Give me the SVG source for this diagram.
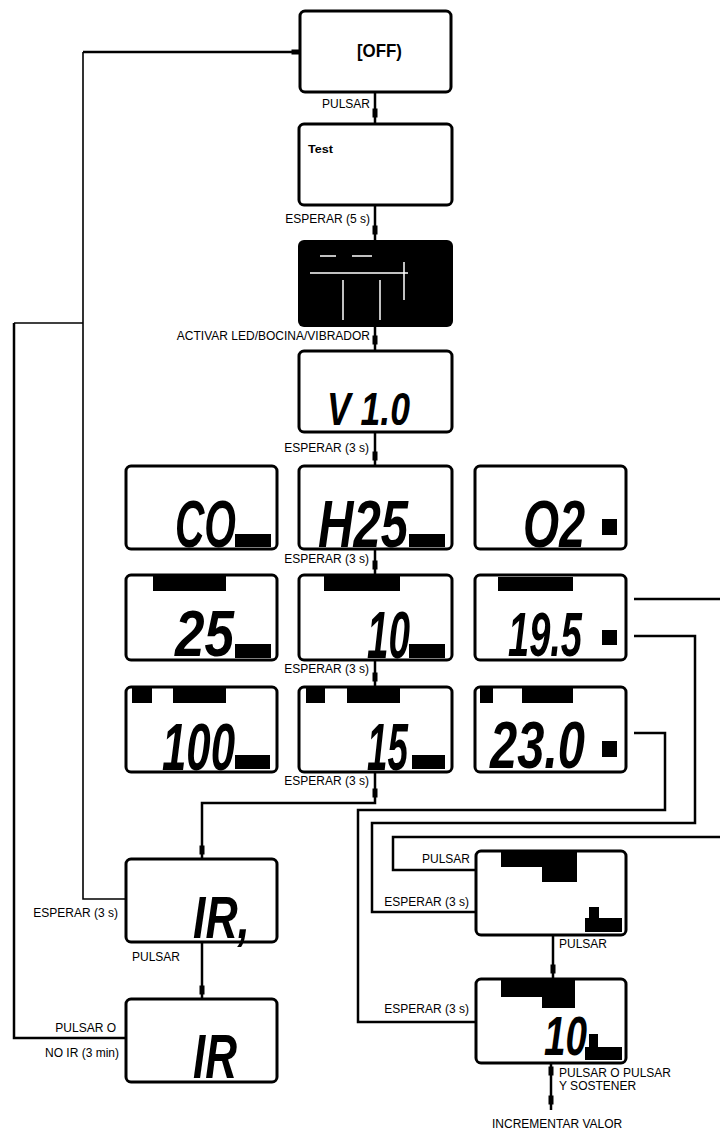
<svg xmlns="http://www.w3.org/2000/svg" xmlns:xlink="http://www.w3.org/1999/xlink" width="720" height="1131" viewBox="0 0 720 1131">
<style>
.scr{fill:#fff;stroke:#000;stroke-width:3}
.blk{fill:#000}
.ln{fill:none;stroke:#000;stroke-width:2.5}
.ln2{fill:none;stroke:#000;stroke-width:1.6}
.lbl{font-family:"Liberation Sans",Arial,sans-serif;font-size:12px;fill:#000}
.lcd{font-family:"Liberation Sans",Arial,sans-serif;font-weight:bold;font-style:italic;fill:#000}
.sm{font-family:"Liberation Sans",Arial,sans-serif;font-weight:bold;fill:#000}
</style>
<defs>
<rect id="nv" x="-2.5" y="-4.5" width="5" height="9" fill="#000"/>
<rect id="nh" x="-4.5" y="-2.5" width="9" height="5" fill="#000"/>
</defs>
<rect width="720" height="1131" fill="#fff"/>

<g id="connectors">
<path class="ln" d="M375 92V123"/>
<path class="ln" d="M375 205V240"/>
<path class="ln" d="M375 327V350"/>
<path class="ln" d="M375 432V465"/>
<path class="ln" d="M375 549V574"/>
<path class="ln" d="M375 660V686"/>
<path class="ln" d="M375 772V803H202V858"/>
<path class="ln" d="M202 942V998"/>
<path class="ln2" d="M126 899H83V52"/>
<path class="ln" d="M83 52H300"/>
<path class="ln" d="M126 1038H14V323"/>
<path class="ln2" d="M14 323H83"/>
<path class="ln" d="M634 599H720"/>
<path class="ln" d="M634 636H695V823H372V912H475"/>
<path class="ln" d="M720 837H393V870H475"/>
<path class="ln" d="M634 733H665V810H358V1022H475"/>
<path class="ln" d="M553 935V978"/>
<path class="ln" d="M551 1063V1110"/>
<use xlink:href="#nh" x="296" y="52"/>
<use xlink:href="#nv" x="375" y="113"/>
<use xlink:href="#nv" x="375" y="230"/>
<use xlink:href="#nv" x="375" y="340"/>
<use xlink:href="#nv" x="375" y="456"/>
<use xlink:href="#nv" x="375" y="565"/>
<use xlink:href="#nv" x="375" y="677"/>
<use xlink:href="#nv" x="375" y="793"/>
<use xlink:href="#nv" x="202" y="850"/>
<use xlink:href="#nv" x="202" y="990"/>
<use xlink:href="#nv" x="553" y="969"/>
<use xlink:href="#nv" x="551" y="1071"/>
<use xlink:href="#nv" x="551" y="1100"/>
</g>

<g id="labels">
<text class="lbl" x="370" y="108" text-anchor="end">PULSAR</text>
<text class="lbl" x="370" y="223" text-anchor="end">ESPERAR (5 s)</text>
<text class="lbl" x="370" y="340" text-anchor="end">ACTIVAR LED/BOCINA/VIBRADOR</text>
<text class="lbl" x="369" y="452" text-anchor="end">ESPERAR (3 s)</text>
<text class="lbl" x="369" y="563" text-anchor="end">ESPERAR (3 s)</text>
<text class="lbl" x="369" y="673" text-anchor="end">ESPERAR (3 s)</text>
<text class="lbl" x="369" y="785" text-anchor="end">ESPERAR (3 s)</text>
<text class="lbl" x="118" y="917" text-anchor="end">ESPERAR (3 s)</text>
<text class="lbl" x="132" y="961">PULSAR</text>
<text class="lbl" x="116" y="1032" text-anchor="end">PULSAR O</text>
<text class="lbl" x="119" y="1057" text-anchor="end">NO IR (3 min)</text>
<text class="lbl" x="470" y="863" text-anchor="end">PULSAR</text>
<text class="lbl" x="469" y="906" text-anchor="end">ESPERAR (3 s)</text>
<text class="lbl" x="559" y="948">PULSAR</text>
<text class="lbl" x="469" y="1013" text-anchor="end">ESPERAR (3 s)</text>
<text class="lbl" x="559" y="1077">PULSAR O PULSAR</text>
<text class="lbl" x="559" y="1090">Y SOSTENER</text>
<text class="lbl" x="492" y="1128">INCREMENTAR VALOR</text>
</g>

<g id="n-off">
<rect class="scr" x="300" y="11" width="151" height="81" rx="5"/>
<text class="sm" x="357" y="57" font-size="18" textLength="45" lengthAdjust="spacingAndGlyphs">[OFF)</text>
</g>
<g id="n-test">
<rect class="scr" x="299" y="124" width="153" height="81" rx="5"/>
<text class="sm" x="308" y="153" font-size="10" textLength="25" lengthAdjust="spacingAndGlyphs">Test</text>
</g>
<g id="n-all">
<rect x="298" y="240" width="155" height="87" rx="6" fill="#000"/>
<path d="M310 273H408M343 280V320M380 280V320M404 262V300M320 256H336M352 256H372" stroke="#fff" stroke-width="1.5" fill="none"/>
</g>
<g id="n-ver">
<rect class="scr" x="299" y="351" width="153" height="81" rx="5"/>
<text class="lcd" x="327" y="425" font-size="46" textLength="83" lengthAdjust="spacingAndGlyphs">V 1.0</text>
</g>

<g id="n-co">
<rect class="scr" x="126" y="466" width="151" height="83" rx="5"/>
<text class="lcd" x="175" y="547" font-size="67" textLength="61" lengthAdjust="spacingAndGlyphs">CO</text>
<rect class="blk" x="235" y="534" width="36" height="13"/>
</g>
<g id="n-h2s">
<rect class="scr" x="299" y="466" width="153" height="83" rx="5"/>
<text class="lcd" x="318" y="547" font-size="67" textLength="90" lengthAdjust="spacingAndGlyphs">H25</text>
<rect class="blk" x="409" y="534" width="36" height="13"/>
</g>
<g id="n-o2">
<rect class="scr" x="475" y="466" width="151" height="83" rx="5"/>
<text class="lcd" x="523" y="547" font-size="67" textLength="62" lengthAdjust="spacingAndGlyphs">O2</text>
<rect class="blk" x="602" y="519" width="15" height="16"/>
</g>

<g id="n-25">
<rect class="scr" x="126" y="575" width="151" height="85" rx="5"/>
<rect class="blk" x="153" y="576" width="73" height="15"/>
<text class="lcd" x="175" y="656" font-size="64" textLength="59" lengthAdjust="spacingAndGlyphs">25</text>
<rect class="blk" x="235" y="644" width="36" height="14"/>
</g>
<g id="n-10">
<rect class="scr" x="299" y="575" width="153" height="85" rx="5"/>
<rect class="blk" x="324" y="576" width="76" height="15"/>
<text class="lcd" x="367" y="658" font-size="67" textLength="43" lengthAdjust="spacingAndGlyphs">10</text>
<rect class="blk" x="409" y="644" width="36" height="14"/>
</g>
<g id="n-195">
<rect class="scr" x="475" y="575" width="151" height="85" rx="5"/>
<rect class="blk" x="498" y="577" width="75" height="14"/>
<text class="lcd" x="508" y="656" font-size="63" textLength="74" lengthAdjust="spacingAndGlyphs">19.5</text>
<rect class="blk" x="602" y="630" width="15" height="15"/>
</g>

<g id="n-100">
<rect class="scr" x="126" y="687" width="151" height="85" rx="5"/>
<rect class="blk" x="132" y="688" width="20" height="15"/>
<rect class="blk" x="173" y="688" width="53" height="15"/>
<text class="lcd" x="162" y="770" font-size="67" textLength="73" lengthAdjust="spacingAndGlyphs">100</text>
<rect class="blk" x="235" y="755" width="35" height="14"/>
</g>
<g id="n-15">
<rect class="scr" x="299" y="687" width="153" height="85" rx="5"/>
<rect class="blk" x="306" y="688" width="19" height="15"/>
<rect class="blk" x="347" y="688" width="53" height="15"/>
<text class="lcd" x="367" y="770" font-size="67" textLength="41" lengthAdjust="spacingAndGlyphs">15</text>
<rect class="blk" x="412" y="755" width="33" height="14"/>
</g>
<g id="n-230">
<rect class="scr" x="475" y="687" width="151" height="85" rx="5"/>
<rect class="blk" x="480" y="688" width="13" height="15"/>
<rect class="blk" x="522" y="688" width="51" height="15"/>
<text class="lcd" x="490" y="768" font-size="67" textLength="95" lengthAdjust="spacingAndGlyphs">23.0</text>
<rect class="blk" x="602" y="741" width="15" height="16"/>
</g>

<g id="n-ir1">
<rect class="scr" x="126" y="859" width="151" height="83" rx="5"/>
<text class="lcd" x="193" y="938" font-size="60" textLength="57" lengthAdjust="spacingAndGlyphs">IR,</text>
</g>
<g id="n-ir2">
<rect class="scr" x="126" y="999" width="151" height="83" rx="5"/>
<text class="lcd" x="193" y="1078" font-size="63" textLength="44" lengthAdjust="spacingAndGlyphs">IR</text>
</g>

<g id="n-set1">
<rect class="scr" x="476" y="851" width="150" height="84" rx="5"/>
<rect class="blk" x="501" y="851" width="76" height="16"/>
<rect class="blk" x="542" y="851" width="35" height="31"/>
<rect class="blk" x="585" y="918" width="37" height="14"/>
<rect class="blk" x="589" y="907" width="10" height="11"/>
</g>
<g id="n-set2">
<rect class="scr" x="476" y="979" width="150" height="84" rx="5"/>
<rect class="blk" x="501" y="980" width="74" height="17"/>
<rect class="blk" x="542" y="980" width="33" height="28"/>
<text class="lcd" x="544" y="1055" font-size="56" textLength="43" lengthAdjust="spacingAndGlyphs">10</text>
<rect class="blk" x="585" y="1047" width="37" height="13"/>
<rect class="blk" x="589" y="1034" width="9" height="13"/>
</g>
</svg>
